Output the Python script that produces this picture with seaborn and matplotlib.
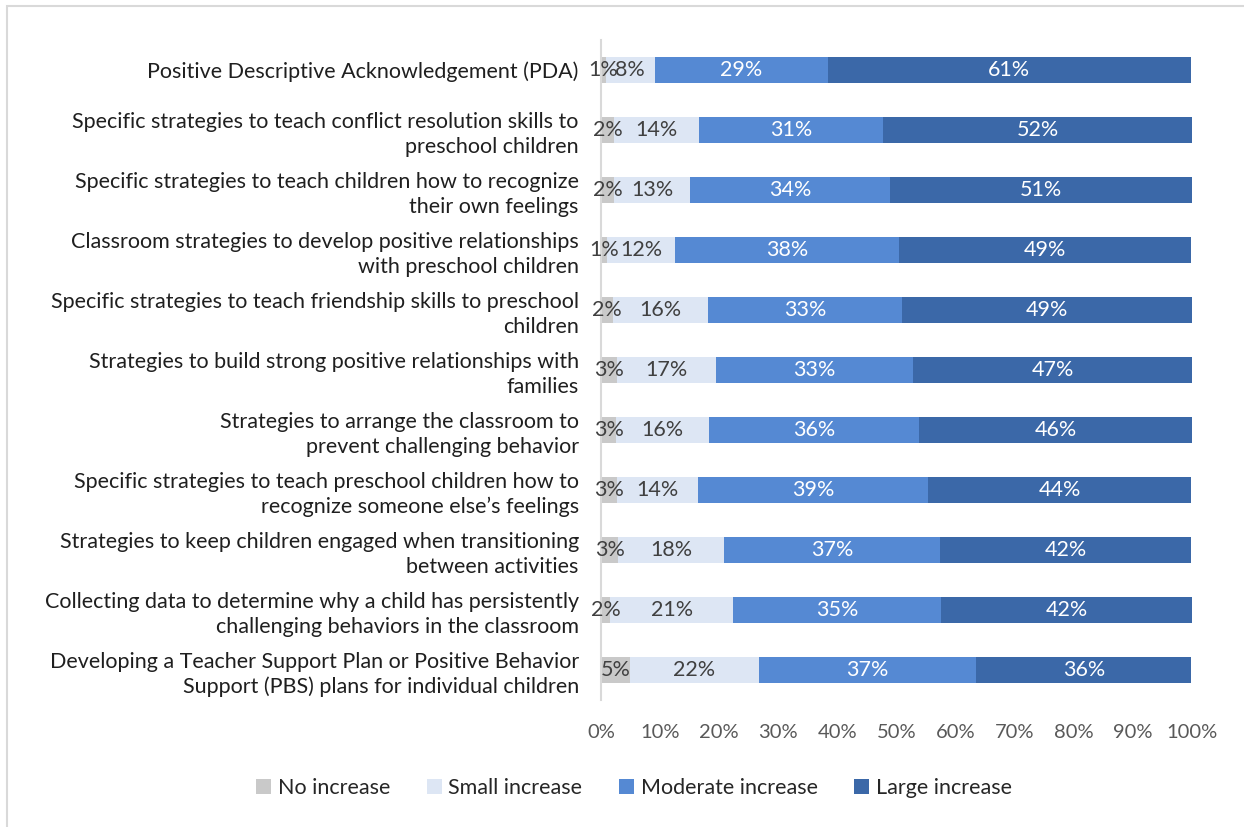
import numpy as np
import matplotlib
matplotlib.use('Agg')
import matplotlib.pyplot as plt
from matplotlib.patches import Patch, Rectangle
import seaborn as sns

# ------------------------------------------------------------------
# Data (percent of respondents)
# ------------------------------------------------------------------
categories = [
    "Positive Descriptive Acknowledgement (PDA)",
    "Specific strategies to teach conflict resolution skills to\npreschool children",
    "Specific strategies to teach children how to recognize\ntheir own feelings",
    "Classroom strategies to develop positive relationships\nwith preschool children",
    "Specific strategies to teach friendship skills to preschool\nchildren",
    "Strategies to build strong positive relationships with\nfamilies",
    "Strategies to arrange the classroom to\nprevent challenging behavior",
    "Specific strategies to teach preschool children how to\nrecognize someone else\u2019s feelings",
    "Strategies to keep children engaged when transitioning\nbetween activities",
    "Collecting data to determine why a child has persistently\nchallenging behaviors in the classroom",
    "Developing a Teacher Support Plan or Positive Behavior\nSupport (PBS) plans for individual children",
]
no_increase = [0.8, 2.2, 2.2, 1.0, 2.0, 2.7, 2.6, 2.7, 2.9, 1.6, 4.9]
small_increase = [8.3, 14.4, 12.9, 11.6, 16.1, 16.8, 15.6, 13.7, 17.9, 20.8, 21.8]
moderate_increase = [29.3, 31.1, 33.8, 37.8, 32.8, 33.3, 35.6, 39.0, 36.6, 35.2, 36.8]
large_increase = [61.4, 52.3, 51.1, 49.4, 49.1, 47.2, 46.2, 44.4, 42.4, 42.4, 36.4]

series_names = ["No increase", "Small increase", "Moderate increase", "Large increase"]
series_values = [no_increase, small_increase, moderate_increase, large_increase]
series_colors = ["#c9c9c9", "#dde6f4", "#5589d3", "#3b68a8"]
label_colors = ["#404040", "#404040", "white", "white"]

# ------------------------------------------------------------------
# Style
# ------------------------------------------------------------------
sns.set_style("white")
plt.rcParams["font.family"] = ["Lato", "DejaVu Sans"]

fig = plt.figure(figsize=(12.44, 8.27), dpi=100)
ax = fig.add_axes([601 / 1244, 1 - 700 / 827, (1192 - 601) / 1244, 660 / 827])

vals = np.array(series_values)
cum = np.cumsum(vals, axis=0)

# stacked bars: draw cumulative totals from the outermost layer inwards
for i in range(len(series_names) - 1, -1, -1):
    sns.barplot(x=cum[i], y=categories, orient="h", color=series_colors[i],
                saturation=1, width=0.44, linewidth=0, ax=ax)

# segment labels centred in each segment
for i in range(len(series_names)):
    for j, cat in enumerate(categories):
        v = vals[i, j]
        ax.text(cum[i, j] - v / 2, j, f"{v:.0f}%", ha="center", va="center",
                fontsize=15.5, color=label_colors[i])

ax.set_xlim(0, 100)
ax.set_ylim(len(categories) - 0.5, -0.5)
ax.set_xticks(np.arange(0, 101, 10))
ax.set_xticklabels([f"{t}%" for t in range(0, 101, 10)])
ax.set_xlabel("")
ax.set_ylabel("")
ax.tick_params(axis="x", length=0, pad=17, labelsize=14.5, labelcolor="#595959")
ax.tick_params(axis="y", length=0, pad=16, labelsize=15.5, labelcolor="#1f1f1f")
for lab in ax.get_yticklabels():
    lab.set_linespacing(1.3)

for side in ["top", "right", "bottom"]:
    ax.spines[side].set_visible(False)
ax.spines["left"].set_color("#d9d9d9")
ax.spines["left"].set_linewidth(1.5)

handles = [Patch(facecolor=c, edgecolor="none") for c in series_colors]
fig.legend(handles, series_names, loc="center", ncol=4,
           bbox_to_anchor=(634 / 1244, 1 - 788 / 827), frameon=False,
           fontsize=15.5, handlelength=0.7, handleheight=0.7, handletextpad=0.3,
           columnspacing=1.7, labelcolor="#262626")

# light outer chart border (only the left and top edges fall inside the image)
fig.add_artist(Rectangle((7 / 1244, -0.1), 1.2, 1 - 6 / 827 + 0.1,
                         transform=fig.transFigure, fill=False,
                         edgecolor="#d9d9d9", linewidth=1.5))

fig.savefig("out.png", dpi=100)
